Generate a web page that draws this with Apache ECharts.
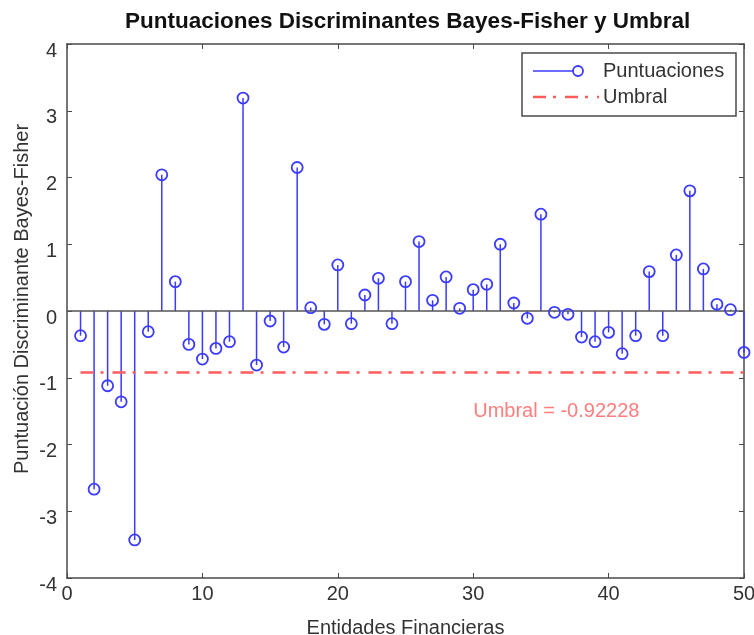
<!DOCTYPE html>
<html>
<head>
<meta charset="utf-8">
<script src="https://cdn.jsdelivr.net/npm/echarts@6/dist/echarts.min.js"></script>
<style>
html,body{margin:0;padding:0;background:#fff;}
#chart{width:754px;height:635px;}
</style>
</head>
<body>
<div id="chart"></div>
<script>
const entidades = [1,2,3,4,5,6,7,8,9,10,11,12,13,14,15,16,17,18,19,20,21,22,23,24,25,26,27,28,29,30,31,32,33,34,35,36,37,38,39,40,41,42,43,44,45,46,47,48,49,50];
const puntuaciones = [-0.37,-2.67,-1.12,-1.36,-3.43,-0.31,2.04,0.44,-0.50,-0.72,
  -0.56,-0.46,3.19,-0.81,-0.15,-0.54,2.15,0.05,-0.20,0.69,
  -0.19,0.24,0.49,-0.19,0.44,1.04,0.16,0.51,0.04,0.32,
  0.40,1.00,0.12,-0.11,1.45,-0.02,-0.05,-0.39,-0.46,-0.32,
  -0.64,-0.37,0.59,-0.37,0.84,1.80,0.63,0.10,0.02,-0.62];
const umbral = -0.92228;
const umbralX = [1, 50];
const xTicks = [0, 10, 20, 30, 40, 50];
const yTicks = [-4, -3, -2, -1, 0, 1, 2, 3, 4];
const textoUmbralPos = [30, -1.5];

const FONT = '"Liberation Sans", Arial, sans-serif';
const BLUE = '#3b3bff';
const RED = '#ff5c5c';
const AXIS = '#4a4a4a';

const pts = entidades.map((x, i) => [x, puntuaciones[i]]);

const chart = echarts.init(document.getElementById('chart'), null, {renderer: 'canvas'});

const tickCommon = {show: true, inside: true, length: 5, lineStyle: {color: AXIS, width: 1}};
const lineCommon = {show: true, onZero: false, lineStyle: {color: AXIS, width: 1.5}};

chart.setOption({
  animation: false,
  backgroundColor: '#fff',
  title: {
    text: 'Puntuaciones Discriminantes Bayes-Fisher y Umbral',
    left: 120, top: 5,
    textStyle: {fontFamily: FONT, fontSize: 22.5, fontWeight: 'bold', color: '#111'}
  },
  grid: {left: 67, right: 10, top: 44, bottom: 57, containLabel: false, outerBoundsMode: 'none'},
  xAxis: [{
    type: 'value', min: xTicks[0], max: xTicks[xTicks.length - 1], interval: 10,
    axisLine: lineCommon, axisTick: tickCommon, splitLine: {show: false},
    axisLabel: {fontFamily: FONT, fontSize: 20, color: '#333', margin: 6},
    name: 'Entidades Financieras', nameLocation: 'middle', nameGap: 40,
    nameTextStyle: {fontFamily: FONT, fontSize: 20, color: '#333'}
  }, {
    type: 'value', position: 'top', min: 0, max: 50, interval: 10,
    axisLine: lineCommon, axisTick: tickCommon, axisLabel: {show: false}, splitLine: {show: false}
  }],
  yAxis: [{
    type: 'value', min: yTicks[0], max: yTicks[yTicks.length - 1], interval: 1,
    axisLine: lineCommon, axisTick: tickCommon, splitLine: {show: false},
    axisLabel: {fontFamily: FONT, fontSize: 20, color: '#333', margin: 10,
                verticalAlign: 'top', lineHeight: 14}
  }, {
    type: 'value', position: 'right', min: -4, max: 4, interval: 1,
    axisLine: lineCommon, axisTick: tickCommon, axisLabel: {show: false}, splitLine: {show: false}
  }],
  graphic: [
    {type: 'text', x: 22, y: 299, rotation: Math.PI / 2,
     style: {text: 'Puntuación Discriminante Bayes-Fisher', fontFamily: FONT, fontSize: 20,
             fill: '#333', align: 'center', verticalAlign: 'middle'}},
    {type: 'rect', shape: {x: 522, y: 53, width: 214, height: 63},
     style: {fill: '#fff', stroke: AXIS, lineWidth: 1.5}, z: 100},
    {type: 'line', shape: {x1: 533, y1: 71, x2: 578, y2: 71}, style: {stroke: BLUE, lineWidth: 1.5}, z: 101},
    {type: 'circle', shape: {cx: 578, cy: 71, r: 5}, style: {fill: '#fff', stroke: BLUE, lineWidth: 1.8}, z: 102},
    {type: 'text', x: 603, y: 71, style: {text: 'Puntuaciones', fontFamily: FONT, fontSize: 20, fill: '#333', verticalAlign: 'middle'}, z: 101},
    {type: 'line', shape: {x1: 533, y1: 97, x2: 599, y2: 97}, style: {stroke: RED, lineWidth: 2.5, lineDash: [13, 7, 3, 9]}, z: 101},
    {type: 'text', x: 603, y: 97, style: {text: 'Umbral', fontFamily: FONT, fontSize: 20, fill: '#333', verticalAlign: 'middle'}, z: 101}
  ],
  series: [
    {
      type: 'custom',
      data: pts,
      renderItem: function (params, api) {
        const p0 = api.coord([api.value(0), 0]);
        const p1 = api.coord([api.value(0), api.value(1)]);
        return {type: 'line', shape: {x1: p0[0], y1: p0[1], x2: p1[0], y2: p1[1]},
                style: {stroke: BLUE, lineWidth: 1.5}};
      },
      z: 2
    },
    {
      type: 'line',
      data: [[0, 0], [50, 0]],
      symbol: 'none',
      lineStyle: {color: '#555', width: 1.5},
      z: 3
    },
    {
      type: 'scatter',
      data: pts,
      symbol: 'circle',
      symbolSize: 11,
      itemStyle: {color: 'rgba(255,255,255,0)', borderColor: BLUE, borderWidth: 1.8, opacity: 1},
      z: 4
    },
    {
      type: 'line',
      data: umbralX.map(x => [x, umbral]),
      symbol: 'none',
      lineStyle: {color: RED, width: 2.5, type: [13, 7, 3, 9]},
      z: 5
    },
    {
      type: 'scatter',
      data: [textoUmbralPos],
      symbolSize: 0,
      label: {show: true, position: 'right', distance: 0, formatter: 'Umbral = ' + umbral,
              fontFamily: FONT, fontSize: 20, color: RED},
      z: 6
    }
  ]
});
</script>
</body>
</html>
